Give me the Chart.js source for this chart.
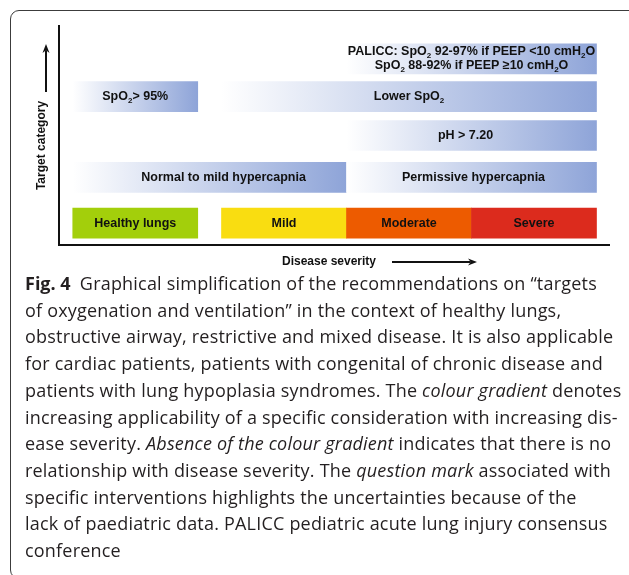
<!DOCTYPE html>
<html>
<head>
<meta charset="utf-8">
<script src="https://cdn.jsdelivr.net/npm/chart.js@4.4.1/dist/chart.umd.min.js"></script>
<style>
  html, body { margin: 0; padding: 0; background: #fff; }
  body { width: 629px; height: 575px; position: relative; overflow: hidden; }
  #frame { position: absolute; left: 10px; top: 10px; width: 660px; height: 567px; border: 1px solid #3c3c3c; border-radius: 9px; }
  #chart { position: absolute; left: 0; top: 0; }
  #caption { position: absolute; left: 25px; top: 270px; font-family: "Open Sans", sans-serif; font-size: 18px;
             letter-spacing: 0.2px; line-height: 26.7px; color: #231f20; white-space: nowrap; }
  #caption b { font-weight: bold; letter-spacing: 0; }
</style>
</head>
<body>
<div id="frame"></div>
<canvas id="chart" width="629" height="280"></canvas>
<div id="caption">
  <div><b>Fig. 4</b>&ensp;Graphical simplification of the recommendations on “targets</div>
  <div>of oxygenation and ventilation” in the context of healthy lungs,</div>
  <div>obstructive airway, restrictive and mixed disease. It is also applicable</div>
  <div>for cardiac patients, patients with congenital of chronic disease and</div>
  <div>patients with lung hypoplasia syndromes. The <i>colour gradient</i> denotes</div>
  <div>increasing applicability of a specific consideration with increasing dis-</div>
  <div>ease severity. <i>Absence of the colour gradient</i> indicates that there is no</div>
  <div>relationship with disease severity. The <i>question mark</i> associated with</div>
  <div>specific interventions highlights the uncertainties because of the</div>
  <div>lack of paediatric data. PALICC pediatric acute lung injury consensus</div>
  <div>conference</div>
</div>
<script>
// Уровни целевых категорий (снизу вверх) по оси Y
const rowNames = ['Disease severity', 'Ventilation', 'pH', 'Oxygenation', 'PALICC'];
const rowLevels = [2.2, 6.8, 11.0, 14.9, 18.7];

// Степень тяжести заболевания (нижний ряд)
const severityLabels = ['Healthy lungs', 'Mild', 'Moderate', 'Severe'];
const severityStart = [0.55, 6.5, 11.5, 16.5];
const severityEnd = [5.55, 11.5, 16.5, 21.5];

// Целевые показатели; {..} — подстрочный индекс, | — перенос строки
const targetLabels = [
    'Normal to mild hypercapnia',
    'Permissive hypercapnia',
    'pH > 7.20',
    'SpO{2}> 95%',
    'Lower SpO{2}',
    'PALICC: SpO{2} 92-97% if PEEP <10 cmH{2}O|SpO{2} 88-92% if PEEP ≥10 cmH{2}O'
];
const targetStart = [0.55, 11.5, 11.5, 0.55, 6.5, 11.5];
const targetEnd = [11.5, 21.5, 21.5, 5.55, 21.5, 21.5];
const targetRow = [1, 1, 2, 3, 3, 4];

const FONT = '"Liberation Sans", Arial, sans-serif';

// Градиент от белого к синему для каждой полосы
function blueGradient(context) {
    const chart = context.chart;
    if (!chart.chartArea || context.type !== 'data') return '#8ea4d8';
    const x = chart.scales.x;
    const raw = context.raw.x;
    const g = chart.ctx.createLinearGradient(x.getPixelForValue(raw[0]), 0, x.getPixelForValue(raw[1]), 0);
    g.addColorStop(0, '#ffffff');
    g.addColorStop(1, '#8ea4d8');
    return g;
}

// Текст с подстрочными индексами
function drawRich(ctx, text, cx, cy) {
    const parts = text.split(/[{}]/);
    const mainFont = 'bold 12.5px ' + FONT;
    const subFont = 'bold 8px ' + FONT;
    let total = 0;
    parts.forEach((p, k) => { ctx.font = k % 2 ? subFont : mainFont; total += ctx.measureText(p).width; });
    let x = cx - total / 2;
    parts.forEach((p, k) => {
        ctx.font = k % 2 ? subFont : mainFont;
        ctx.fillText(p, x, k % 2 ? cy + 4 : cy);
        x += ctx.measureText(p).width;
    });
}

const barLabels = {
    id: 'barLabels',
    afterDatasetsDraw(chart) {
        const ctx = chart.ctx;
        ctx.save();
        ctx.fillStyle = '#111';
        ctx.textAlign = 'left';
        ctx.textBaseline = 'middle';
        chart.data.datasets.forEach((ds, di) => {
            chart.getDatasetMeta(di).data.forEach((bar, i) => {
                const lines = ds.texts[i].split('|');
                const cx = (bar.x + bar.base) / 2 + (ds.textShift ? ds.textShift[i] : 0);
                lines.forEach((line, k) => {
                    drawRich(ctx, line, cx, bar.y + (k - (lines.length - 1) / 2) * 14);
                });
            });
        });
        ctx.restore();
    }
};

function arrow(ctx, x0, y0, x1, y1) {
    const a = Math.atan2(y1 - y0, x1 - x0);
    const head = 9, half = 3.5;
    ctx.lineWidth = 2;
    ctx.beginPath();
    ctx.moveTo(x0, y0);
    ctx.lineTo(x1 - Math.cos(a) * head * 0.7, y1 - Math.sin(a) * head * 0.7);
    ctx.stroke();
    ctx.beginPath();
    ctx.moveTo(x1, y1);
    ctx.lineTo(x1 - Math.cos(a) * head - Math.sin(a) * half, y1 - Math.sin(a) * head + Math.cos(a) * half);
    ctx.lineTo(x1 - Math.cos(a) * head * 0.7, y1 - Math.sin(a) * head * 0.7);
    ctx.lineTo(x1 - Math.cos(a) * head + Math.sin(a) * half, y1 - Math.sin(a) * head - Math.cos(a) * half);
    ctx.closePath();
    ctx.fill();
}

// Подписи осей со стрелками
const axisTitles = {
    id: 'axisTitles',
    afterDraw(chart) {
        const ctx = chart.ctx;
        const a = chart.chartArea;
        ctx.save();
        ctx.fillStyle = '#111';
        ctx.strokeStyle = '#111';
        ctx.font = 'bold 12px ' + FONT;
        ctx.textAlign = 'center';
        ctx.textBaseline = 'middle';
        ctx.fillText('Disease severity', a.left + 270, a.bottom + 17);
        arrow(ctx, a.left + 333, a.bottom + 17, a.left + 418, a.bottom + 17);
        arrow(ctx, a.left - 13, a.top + 66, a.left - 13, a.top + 18);
        ctx.translate(a.left - 17, a.top + 119.5);
        ctx.rotate(-Math.PI / 2);
        ctx.fillText('Target category', 0, 0);
        ctx.restore();
    }
};

new Chart(document.getElementById('chart'), {
    type: 'bar',
    data: {
        datasets: [{
            texts: targetLabels,
            textShift: [14, 2, -6, 0, 0, 0],
            data: targetStart.map((s, i) => ({ x: [s, targetEnd[i]], y: rowLevels[targetRow[i]] })),
            backgroundColor: blueGradient,
            barThickness: 30,
            grouped: false
        }, {
            texts: severityLabels,
            data: severityStart.map((s, i) => ({ x: [s, severityEnd[i]], y: rowLevels[0] })),
            backgroundColor: ['#a3cf0b', '#f9dd11', '#ed5b00', '#dc2b1d'],
            barThickness: 30,
            grouped: false
        }]
    },
    options: {
        indexAxis: 'y',
        responsive: false,
        animation: false,
        layout: { padding: { left: 59, right: 20, top: 26, bottom: 35 } },
        plugins: { legend: { display: false }, tooltip: { enabled: false } },
        scales: {
            x: {
                type: 'linear', min: 0, max: 22,
                grid: { display: false, drawTicks: false },
                ticks: { display: false },
                border: { color: '#111', width: 2 }
            },
            y: {
                type: 'linear', min: 0, max: 22, offset: false,
                grid: { display: false, drawTicks: false },
                ticks: { display: false },
                border: { color: '#111', width: 2 }
            }
        }
    },
    plugins: [barLabels, axisTitles]
});
</script>
</body>
</html>
